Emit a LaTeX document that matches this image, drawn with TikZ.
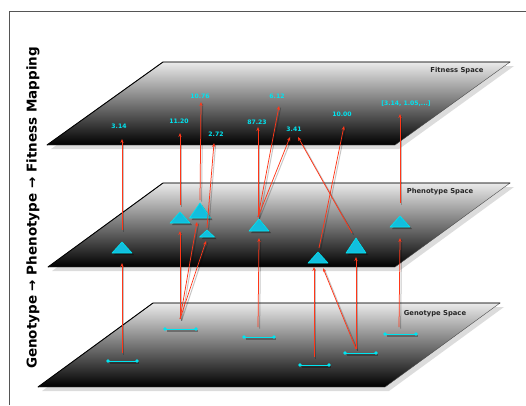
\documentclass[tikz,border=0pt]{standalone}
\usepackage{fontspec}
\setmainfont{DejaVu Sans}
\usetikzlibrary{arrows.meta}
\definecolor{arr}{RGB}{255,55,25}
\definecolor{cy}{RGB}{0,228,240}
\definecolor{trif}{RGB}{18,190,222}
\definecolor{frame}{RGB}{85,85,85}
\tikzset{
  planeshadow/.style={fill=black!30,opacity=.45},
  planefill/.style={top color=black!8,middle color=black!50,bottom color=black},
  planeedge/.style={draw=black,line width=.9pt},
  conn/.style={draw=arr,line width=.75pt,-{Stealth[length=4pt,width=3.2pt]}},
  connshadow/.style={draw=black,opacity=.22,line width=1pt},
  val/.style={text=cy,font=\bfseries\fontsize{6.1}{6.5}\selectfont,inner sep=0pt},
  planelabel/.style={text=black!85,font=\bfseries\fontsize{6.8}{7}\selectfont,inner sep=0pt},
  segline/.style={draw=cy,line width=.9pt},
  segdot/.style={fill=cy},
  trishape/.style={fill=trif,draw=cy,line width=.6pt,line join=round},
  trishadow/.style={fill=black,opacity=.35}
}
% \myplane{x1,y1}{x2,y2}{x3,y3}{x4,y4}
\newcommand{\myplane}[4]{%
  \fill[planeshadow,shift={(4,4)}] (#1) -- (#2) -- (#3) -- (#4) -- cycle;
  \shade[planefill] (#1) -- (#2) -- (#3) -- (#4) -- cycle;
  \draw[black!70,line width=.4pt] (#1) -- (#2) -- (#3) -- (#4) -- cycle;
  \draw[planeedge] (#4) -- (#1) -- (#2);
}
% \mytri{name}{cx}{apex y}{base y}{half width}
\newcommand{\mytri}[5]{%
  \fill[trishadow] (#2-#5+2,#4+2) -- (#2+2,#3+2) -- (#2+#5+2,#4+2) -- cycle;
  \filldraw[trishape] (#2-#5,#4) -- (#2,#3) -- (#2+#5,#4) -- cycle;
  \coordinate (#1) at (#2,#3);
}
% \myseg{name}{x1}{x2}{y}
\newcommand{\myseg}[4]{%
  \draw[black,opacity=.3,line width=1.4pt] (#2+2,#4+2) -- (#3+2,#4+2);
  \coordinate (#1a) at (#2,#4);
  \coordinate (#1b) at (#3,#4);
  \draw[segline] (#1a) -- (#1b);
  \fill[segdot] (#1a) circle (1.9);
  \fill[segdot] (#1b) circle (1.9);
}
\newcommand{\myconn}[2]{%
  \draw[connshadow,transform canvas={shift={(1.6pt,-1.6pt)}}] (#1) -- (#2);
  \draw[conn] (#1) -- (#2);
}
\begin{document}
\begin{tikzpicture}[x=1pt,y=-1pt]
\useasboundingbox (0,0) rectangle (526,405);
% frame
\draw[frame,line width=.9pt] (9,405) -- (9,11) -- (526,11);

% planes
\myplane{153,303}{500,303}{385,387}{38,387}
\myplane{163,183}{510,183}{395,267}{48,267}
\myplane{163,62}{510,62}{395,145}{47,145}

\node[planelabel] (lfit) at (457,71) {Fitness Space};
\node[planelabel] (lphe) at (440,192) {Phenotype Space};
\node[planelabel] (lgen) at (435,314) {Genotype Space};

% title
\node[rotate=90,font=\bfseries\fontsize{13.5}{14}\selectfont,inner sep=0pt] (title) at (33,208)
  {Genotype → Phenotype → Fitness Mapping};

% genotype segments
\myseg{g1}{108}{137}{361}
\myseg{g2}{165}{196}{329}
\myseg{g3}{244}{274}{337}
\myseg{g4}{300}{329}{365}
\myseg{g5}{345}{376}{353}
\myseg{g6}{385}{416}{334}

% phenotype triangles
\mytri{t1}{122}{242}{253}{10}
\mytri{t2}{180}{212}{223}{10}
\mytri{t3}{200}{203}{218}{10.5}
\mytri{t4}{207}{230}{237}{7.5}
\mytri{t5}{259}{219}{231}{10}
\mytri{t6}{318}{252}{263}{10}
\mytri{t7}{356}{238}{253}{10}
\mytri{t8}{400}{216}{227}{10}

% fitness values
\node[val] (v1) at (119,126) {3.14};
\node[val] (v2) at (179,121) {11.20};
\node[val] (v3) at (200,96) {10.76};
\node[val] (v4) at (216,134) {2.72};
\node[val] (v5) at (257,122) {87.23};
\node[val] (v6) at (277,96) {6.12};
\node[val] (v7) at (294,129) {3.41};
\node[val] (v8) at (342,114) {10.00};
\node[val] (v9) at (406,104) {[3.14, 1.05,...]};

% connector end points
\coordinate (s1) at (122,353);
\coordinate (s2) at (180,319);
\coordinate (s3) at (258,327);
\coordinate (s4) at (314,357);
\coordinate (s5) at (356,349);
\coordinate (s6) at (399,327);

\coordinate (i1) at (122,263);
\coordinate (i2) at (180,231);
\coordinate (i3) at (197,222);
\coordinate (i4) at (206,241);
\coordinate (i5) at (259,238);
\coordinate (i6a) at (314,267);
\coordinate (i6b) at (323,268);
\coordinate (i7) at (356,257);
\coordinate (i8) at (400,238);

\coordinate (p1) at (122,230);
\coordinate (p2) at (180,205);
\coordinate (p3) at (200,200);
\coordinate (p4) at (207,228);
\coordinate (p5) at (258,217);
\coordinate (p6) at (319,248);
\coordinate (p7) at (352,233);
\coordinate (p8) at (400,203);

\coordinate (f1) at (122,139);
\coordinate (f2) at (180,133);
\coordinate (f3) at (201,102);
\coordinate (f4) at (214,143);
\coordinate (f5) at (258,127);
\coordinate (f6) at (279,106);
\coordinate (f7a) at (290,137);
\coordinate (f7b) at (298,137);
\coordinate (f8) at (344,126);
\coordinate (f9) at (400,114);

% genotype -> phenotype
\myconn{s1}{i1}
\myconn{s2}{i2}
\myconn{s2}{i3}
\myconn{s2}{i4}
\myconn{s3}{i5}
\myconn{s4}{i6a}
\myconn{s5}{i6b}
\myconn{s5}{i7}
\myconn{s6}{i8}

% phenotype -> fitness
\myconn{p1}{f1}
\myconn{p2}{f2}
\myconn{p3}{f3}
\myconn{p4}{f4}
\myconn{p5}{f5}
\myconn{p5}{f6}
\myconn{p5}{f7a}
\myconn{p6}{f8}
\myconn{p7}{f7b}
\myconn{p8}{f9}
\end{tikzpicture}
\end{document}
